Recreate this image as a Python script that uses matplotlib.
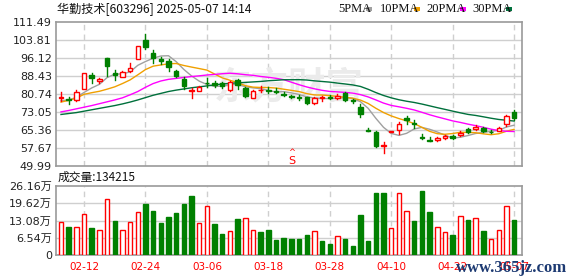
import numpy as np
import pandas as pd
import matplotlib
matplotlib.use("Agg")
import matplotlib.pyplot as plt
import matplotlib.transforms as mtransforms
from matplotlib.patches import Rectangle

# ---------------- data ----------------
title = "华勤技术[603296] 2025-05-07 14:14"
opens = [78.89, 78.46, 78.18, 82.88, 89.00, 86.15, 96.11, 89.85, 88.00, 90.42,
         95.69, 103.95, 98.39, 95.83, 94.98, 90.71, 87.15, 82.02, 82.16, 85.58,
         85.30, 85.58, 82.31, 86.72, 83.16, 79.03, 82.31, 82.31, 81.88, 80.88,
         79.74, 79.46, 79.32, 76.90, 79.03, 79.46, 79.17, 81.02, 78.03, 75.33,
         65.36, 64.65, 58.39, 64.51, 65.36, 70.35, 68.35, 62.38, 61.09, 60.95,
         61.81, 62.66, 63.09, 65.65, 65.65, 66.22, 64.65, 65.08, 68.07, 73.20]
closes = [79.60, 78.18, 81.59, 89.71, 87.57, 87.29, 92.56, 89.00, 90.28, 91.84,
          101.24, 100.67, 96.11, 94.98, 92.41, 88.57, 84.01, 82.31, 83.87, 85.30,
          84.44, 84.30, 85.87, 84.73, 79.74, 82.16, 82.59, 82.02, 81.59, 80.45,
          79.46, 79.17, 77.04, 79.17, 79.32, 79.17, 80.03, 78.03, 77.75, 72.20,
          65.08, 58.67, 58.82, 64.80, 67.93, 69.49, 68.07, 62.09, 60.81, 62.09,
          62.66, 61.81, 64.08, 64.37, 66.50, 64.80, 64.37, 66.08, 71.49, 70.35]
highs = [81.45, 79.32, 82.45, 89.85, 89.57, 87.57, 96.26, 91.13, 90.71, 93.84,
         101.24, 106.51, 99.67, 96.40, 95.69, 91.13, 87.86, 83.16, 84.30, 87.57,
         86.43, 86.00, 86.29, 87.15, 83.87, 82.59, 84.01, 83.59, 83.16, 81.74,
         80.45, 80.31, 79.60, 79.60, 80.03, 80.31, 80.74, 81.45, 78.60, 76.47,
         66.22, 64.94, 60.38, 64.94, 68.93, 71.21, 69.78, 63.66, 62.23, 62.52,
         63.09, 63.23, 65.08, 66.36, 67.64, 66.79, 65.51, 66.79, 71.77, 73.91]
lows = [77.89, 76.47, 77.89, 82.74, 85.30, 85.58, 88.29, 86.86, 87.86, 90.28,
        95.69, 99.82, 93.84, 93.55, 90.42, 88.14, 82.88, 78.89, 81.88, 83.59,
        83.73, 83.45, 82.16, 82.73, 79.60, 78.89, 81.74, 81.02, 81.02, 80.03,
        78.89, 78.18, 76.33, 76.47, 77.89, 78.46, 78.46, 77.89, 77.04, 71.06,
        64.80, 58.25, 55.40, 64.37, 63.51, 67.93, 66.36, 61.38, 60.67, 60.67,
        61.38, 61.52, 62.95, 64.08, 65.51, 64.37, 63.94, 64.94, 67.07, 69.78]
# volume in 万 shares, and direction of volume bars (u = red, d = green)
volumes = [12.44, 10.54, 10.79, 15.49, 10.16, 9.65, 21.08, 12.83, 9.65, 12.70,
           16.25, 19.30, 16.63, 12.06, 14.35, 15.87, 19.30, 22.35, 12.06, 18.54,
           11.68, 7.87, 9.27, 13.59, 13.97, 9.65, 8.89, 9.40, 5.59, 6.35,
           5.97, 5.97, 7.49, 9.27, 5.21, 4.06, 7.37, 5.97, 3.30, 15.11,
           5.21, 23.49, 23.49, 10.41, 23.49, 16.51, 12.83, 24.25, 16.25, 10.79,
           8.63, 7.49, 14.60, 13.21, 13.84, 9.02, 6.22, 9.65, 18.54, 13.42]
vol_dir = list("uduuduuduu" + "uddddddduu" + "dduduudddd" +
               "dddudduddd" + "ddduuudddu" + "udududuuud")
# moving averages before enough history is visible
ma5_head = [77.9, 78.2, 79.3, 81.4]
ma10_head = [77.3, 78.0, 79.0, 80.6, 81.3, 81.9, 82.8, 83.8, 85.2]
ma20_head = [73.1, 73.7, 74.4, 75.1, 75.8, 76.6, 77.4, 78.2, 79.1, 80.4,
             81.8, 83.6, 85.2, 86.3, 87.0, 87.4, 87.8, 88.2, 88.5]
ma30_head = [72.0, 72.4, 72.8, 73.4, 74.0, 74.6, 75.2, 75.8, 76.5, 77.3,
             78.2, 79.2, 80.2, 81.0, 81.8, 82.4, 82.9, 83.4, 83.8, 84.2,
             84.6, 85.0, 85.3, 85.5, 85.7, 85.9, 86.1, 86.4, 86.6]
price_ticks = [49.99, 57.67, 65.36, 73.05, 80.74, 88.43, 96.12, 103.81, 111.49]
vol_ticks = [0, 6.54, 13.08, 19.62, 26.16]
vol_tick_labels = ["0", "6.54万", "13.08万", "19.62万", "26.16万"]
date_idx = [3, 11, 19, 27, 35, 43, 51, 59]
date_labels = ["02-12", "02-24", "03-06", "03-18", "03-28", "04-10", "04-22", "05-07"]
last_volume = "134215"
sell_idx = 30

# ---------------- helpers ----------------
W, H = 578, 276
def fx(x): return x / W
def fy(y): return 1 - y / H

RED = "#ff0000"
GREEN = "#008000"
GRID = "#cfcfcf"
FRAME = "#9a9a9a"
MA_COLORS = ["#a0a0a0", "#f0a000", "#ff00ff", "#00703c"]

n = len(closes)
x = np.arange(n)
cs = pd.Series(closes)
def ma(win, head):
    m = cs.rolling(win).mean().to_numpy()
    m[:len(head)] = head
    return m
mas = [ma(5, ma5_head), ma(10, ma10_head), ma(20, ma20_head), ma(30, ma30_head)]

fig = plt.figure(figsize=(W / 100, H / 100), dpi=100)
ax = fig.add_axes([fx(56), fy(166), fx(522) - fx(56), fy(22) - fy(166)])
axv = fig.add_axes([fx(56), fy(255), fx(522) - fx(56), fy(186) - fy(255)])

xlim = (-0.65, n - 1 + 1.03)
for a in (ax, axv):
    a.set_xlim(*xlim)
    for s in a.spines.values():
        s.set_color(FRAME)
        s.set_linewidth(1.2)
    a.tick_params(length=0)
    a.set_xticks([])
    for i in date_idx:
        a.axvline(i, color=GRID, lw=1, ls=(0, (4, 3)), zorder=0)

# price panel
ax.set_ylim(price_ticks[0], price_ticks[-1])
for v in price_ticks[1:-1]:
    ax.axhline(v, color=GRID, lw=1, zorder=0)
ax.set_yticks(price_ticks)
ax.set_yticklabels([f"{v:.2f}" for v in price_ticks], fontsize=8, color="#222222",
                   family="DejaVu Sans")
ax.tick_params(axis="y", pad=3)

ax.text(0.50, 0.54, "东方财富", transform=ax.transAxes, fontsize=27, color="#ebebeb",
        family="Noto Sans CJK SC", weight="bold", style="italic",
        ha="center", va="center", zorder=0.5)

bw = 0.58
for i in range(n):
    o, c, h, l = opens[i], closes[i], highs[i], lows[i]
    if c >= o:
        ax.plot([i, i], [h, max(o, c)], color=RED, lw=1, zorder=3)
        ax.plot([i, i], [min(o, c), l], color=RED, lw=1, zorder=3)
        ax.add_patch(Rectangle((i - bw / 2, o), bw, c - o, facecolor="white",
                               edgecolor=RED, lw=1, zorder=4))
    else:
        ax.plot([i, i], [l, h], color=GREEN, lw=1, zorder=3)
        ax.add_patch(Rectangle((i - bw / 2, c), bw, o - c, facecolor=GREEN,
                               edgecolor=GREEN, lw=1, zorder=4))

for m, col in zip(mas, MA_COLORS):
    ax.plot(x, m, color=col, lw=1, zorder=2)

xt = ax.get_xaxis_transform()
ax.text(sell_idx, 0.035, "S", transform=xt, color=RED,
        fontsize=8, ha="center", va="center", family="DejaVu Sans", zorder=5)
ax.text(sell_idx, 0.095, "^", transform=xt, color=RED,
        fontsize=6, ha="center", va="center", family="DejaVu Sans", zorder=5)

# volume panel
axv.set_ylim(vol_ticks[0], vol_ticks[-1])
for v in vol_ticks[1:-1]:
    axv.axhline(v, color=GRID, lw=1, zorder=0)
axv.set_yticks(vol_ticks)
axv.set_yticklabels(vol_tick_labels, fontsize=8, color="#222222",
                    family=["DejaVu Sans", "Noto Sans CJK SC"])
axv.tick_params(axis="y", pad=3)
for i in range(n):
    if vol_dir[i] == "u":
        axv.bar(i, volumes[i], width=bw, facecolor="white", edgecolor=RED, lw=1, zorder=3)
    else:
        axv.bar(i, volumes[i], width=bw, facecolor=GREEN, edgecolor=GREEN, lw=1, zorder=3)

bt = mtransforms.blended_transform_factory(axv.transData, fig.transFigure)
for i, lab in zip(date_idx, date_labels):
    axv.text(i, fy(267), lab, transform=bt, color=RED, fontsize=7.5, ha="center",
             va="center", family="DejaVu Sans", clip_on=False)

# header texts
fig.text(fx(57), fy(9), title, fontsize=8.7, family=["Noto Sans CJK SC", "DejaVu Sans"],
         color="#111111", va="center", ha="left")
fig.text(fx(58), fy(177), "成交量:" + last_volume, fontsize=8.5,
         family=["Noto Sans CJK SC", "DejaVu Sans"], color="#111111", va="center", ha="left")

leg = [("5PMA", 338), ("10PMA", 380), ("20PMA", 426), ("30PMA", 472)]
for (lab, lx), col in zip(leg, MA_COLORS):
    fig.text(fx(lx), fy(9), lab, fontsize=9, family="Liberation Serif",
             color="#111111", va="center", ha="left")
    wpx = 25 if len(lab) == 4 else 31
    fig.patches.append(Rectangle((fx(lx + wpx + 3), fy(11)), 6 / W, 4 / H,
                                 transform=fig.transFigure, facecolor=col, edgecolor="none"))

fig.text(fx(512), fy(268), "www.365jz.com", fontsize=12, family="Liberation Serif",
         weight="bold", color="#1d3a72", ha="center", va="center")

fig.savefig("out.png", dpi=100)
